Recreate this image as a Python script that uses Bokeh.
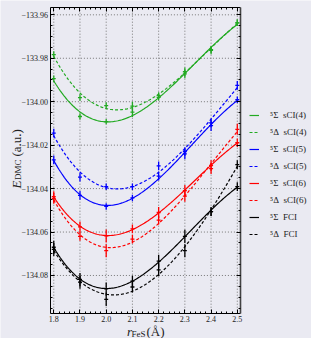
import numpy as np
from bokeh.plotting import figure
from bokeh.models import (Range1d, FixedTicker, CustomJSTickFormatter, LinearAxis,
                          Legend, LegendItem, Label)
from bokeh.embed import file_html
from bokeh.resources import INLINE

# ---------------- data ----------------
r = [1.8, 1.9, 2.0, 2.1, 2.2, 2.3, 2.4, 2.5]

sig_sci4 = [-133.9894, -134.0068, -134.0092, -134.0048, -133.9980, -133.9872, -133.9763, -133.9637]
del_sci4 = [-133.9783, -133.9981, -134.0018, -134.0020, -133.9972, -133.9862, -133.9760, -133.9637]
sig_sci5 = [-134.0268, -134.0431, -134.0482, -134.0443, -134.0343, -134.0240, -134.0110, -133.9991]
del_sci5 = [-134.0145, -134.0347, -134.0391, -134.0391, -134.0295, -134.0230, -134.0097, -133.9925]
sig_sci6 = [-134.0437, -134.0576, -134.0618, -134.0585, -134.0510, -134.0409, -134.0294, -134.0189]
del_sci6 = [-134.0445, -134.0620, -134.0686, -134.0633, -134.0545, -134.0435, -134.0308, -134.0127]
sig_fci = [-134.0670, -134.0818, -134.0862, -134.0826, -134.0734, -134.0620, -134.0506, -134.0391]
del_fci = [-134.0680, -134.0831, -134.0910, -134.0853, -134.0774, -134.0686, -134.0506, -134.0290]

err_sig_sci4 = [0.0015, 0.0015, 0.0012, 0.0022, 0.0015, 0.0020, 0.0018, 0.0015]
err_del_sci4 = [0.0015, 0.0015, 0.0015, 0.0020, 0.0015, 0.0020, 0.0015, 0.0015]
err_sig_sci5 = [0.0020, 0.0020, 0.0015, 0.0015, 0.0020, 0.0025, 0.0025, 0.0015]
err_del_sci5 = [0.0020, 0.0020, 0.0015, 0.0015, 0.0020, 0.0020, 0.0020, 0.0020]
err_sig_sci6 = [0.0025, 0.0025, 0.0030, 0.0020, 0.0025, 0.0025, 0.0025, 0.0020]
err_del_sci6 = [0.0025, 0.0020, 0.0030, 0.0020, 0.0020, 0.0025, 0.0025, 0.0025]
err_sig_fci = [0.0030, 0.0030, 0.0030, 0.0025, 0.0030, 0.0030, 0.0020, 0.0020]
err_del_fci = [0.0030, 0.0030, 0.0030, 0.0025, 0.0030, 0.0030, 0.0020, 0.0020]

labels = ["\u2075\u03a3\u2002sCI(4)", "\u2075\u0394\u2002sCI(4)",
          "\u2075\u03a3\u2002sCI(5)", "\u2075\u0394\u2002sCI(5)",
          "\u2075\u03a3\u2002sCI(6)", "\u2075\u0394\u2002sCI(6)",
          "\u2075\u03a3\u2002FCI", "\u2075\u0394\u2002FCI"]

x_ticks = [1.8, 1.9, 2.0, 2.1, 2.2, 2.3, 2.4, 2.5]
y_ticks = [-134.08, -134.06, -134.04, -134.02, -134.00, -133.98, -133.96]

# ---------------- geometry / styling ----------------
BG = "#EAEAF2"
GREEN, BLUE, RED, BLACK = "#22aa22", "#0000ff", "#ff0000", "#000000"
SERIF = "Liberation Serif"
TXT = "#222222"

W, H = 311, 338
PX_PER_X = 262.2            # px per unit of r
PX_PER_Y = 2172.2           # px per a.u.
X_AT, X_PX = 1.8, 53.26     # anchor: value 1.8 sits at px 53.26
Y_AT, Y_PX = -133.96, 14.32 # anchor: value -133.96 sits at py 14.32

XA = X_AT - X_PX / PX_PER_X
XB = XA + W / PX_PER_X
YT = Y_AT + Y_PX / PX_PER_Y
YB = YT - H / PX_PER_Y

def dx(px):
    return XA + px / PX_PER_X

def dy(py):
    return YT - py / PX_PER_Y

# data box (the framed plotting area)
X0, X1 = dx(50.4), dx(239.7)
Y1, Y0 = dy(6.7), dy(313.2)

p = figure(width=W, height=H, output_backend="svg", toolbar_location=None,
           x_range=Range1d(XA, XB), y_range=Range1d(YB, YT),
           min_border=0, min_border_left=0, min_border_right=0,
           min_border_top=0, min_border_bottom=0,
           background_fill_color=BG, border_fill_color=BG, outline_line_color=None)
p.grid.visible = False

x_minor = [round(1.80 + 0.02 * i, 2) for i in range(36)]
y_minor = [round(-134.095 + 0.005 * i, 3) for i in range(28)]
xt = FixedTicker(ticks=x_ticks, minor_ticks=x_minor)
yt = FixedTicker(ticks=y_ticks, minor_ticks=y_minor)

fmt_y = CustomJSTickFormatter(code="return (tick < 0 ? '\u2212' : '') + Math.abs(tick).toFixed(2);")
fmt_x = CustomJSTickFormatter(code="return tick.toFixed(1);")
blank = CustomJSTickFormatter(code="return '';")

def style(ax, tk, f, loc, bounds, t_in=4, t_out=0, m_in=2, m_out=0):
    ax.ticker = tk
    ax.formatter = f
    ax.fixed_location = loc
    ax.bounds = bounds
    ax.major_label_text_font = SERIF
    ax.major_label_text_font_size = "8px"
    ax.major_label_text_color = TXT
    ax.major_tick_in = t_in
    ax.major_tick_out = t_out
    ax.minor_tick_in = m_in
    ax.minor_tick_out = m_out
    ax.axis_line_color = "black"
    ax.major_tick_line_color = "black"
    ax.minor_tick_line_color = "black"

style(p.xaxis[0], xt, fmt_x, Y0, (X0, X1))
p.xaxis[0].major_label_standoff = 2
style(p.yaxis[0], yt, fmt_y, X0, (Y0, Y1))
p.yaxis[0].major_label_standoff = 3

# top and right spines: fixed-location axes kept in the bottom / left panels
top_ax = LinearAxis()
style(top_ax, xt, blank, Y1, (X0, X1), t_in=0, t_out=4, m_in=0, m_out=2)
top_ax.major_label_text_font_size = "0px"
p.add_layout(top_ax, "below")
right_ax = LinearAxis()
style(right_ax, yt, blank, X1, (Y0, Y1), t_in=0, t_out=4, m_in=0, m_out=2)
right_ax.major_label_text_font_size = "0px"
right_ax.axis_line_color = "#444444"
right_ax.axis_line_width = 1.6
p.add_layout(right_ax, "left")

# dotted grid inside the data box
p.segment(x0=x_ticks, x1=x_ticks, y0=Y0, y1=Y1, line_color="#777777", line_dash="1 2", line_width=1)
p.segment(x0=X0, x1=X1, y0=y_ticks, y1=y_ticks, line_color="#777777", line_dash="1 2", line_width=1)

# ---------------- series ----------------
series = [
    (sig_sci4, err_sig_sci4, GREEN, "solid"),
    (del_sci4, err_del_sci4, GREEN, "3 2"),
    (sig_sci5, err_sig_sci5, BLUE, "solid"),
    (del_sci5, err_del_sci5, BLUE, "3 2"),
    (sig_sci6, err_sig_sci6, RED, "solid"),
    (del_sci6, err_del_sci6, RED, "3 2"),
    (sig_fci, err_sig_fci, BLACK, "solid"),
    (del_fci, err_del_fci, BLACK, "3 2"),
]

xs = np.linspace(r[0], r[-1], 141)
items = []
for (ys, es, col, dash), lab in zip(series, labels):
    ys = np.array(ys)
    es = np.array(es)
    coef = np.polyfit(r, ys, 3)
    ln = p.line(xs, np.polyval(coef, xs), line_color=col, line_width=1.2, line_dash=dash)
    p.segment(x0=r, y0=ys - es, x1=r, y1=ys + es, line_color=col, line_width=1.3)
    p.scatter(r, ys, marker="dash", size=4, line_color=col, line_width=1.3)
    items.append(LegendItem(label=lab, renderers=[ln]))

legend = Legend(items=items, location=(249, 99), orientation="vertical",
                glyph_width=10, glyph_height=10, label_height=10, spacing=7,
                padding=0, margin=0, label_standoff=11,
                label_text_font=SERIF, label_text_font_size="9px",
                label_text_color=TXT,
                background_fill_alpha=0, border_line_color=None)
p.add_layout(legend, "center")

# ---------------- axis titles built from text labels ----------------
def lab(text, px, py, size, italic=False, angle=0.0):
    p.add_layout(Label(x=dx(px), y=dy(py), text=text, angle=angle,
                       text_font=SERIF, text_font_size=size,
                       text_font_style="italic" if italic else "normal",
                       text_align="left", text_baseline="alphabetic",
                       text_color=TXT))

A = np.pi / 2
lab("E", 15.5, 188, "13px", italic=True, angle=A)
lab("DMC", 17.5, 179.5, "9px", angle=A)
lab("(a.u.)", 15.5, 156, "13px", angle=A)

lab("r", 126.5, 331, "13px", italic=True)
lab("FeS", 131, 333.5, "9px")
lab("(\u00c5)", 146, 331, "13px")

open("out.html", "w").write(file_html(p, INLINE))
